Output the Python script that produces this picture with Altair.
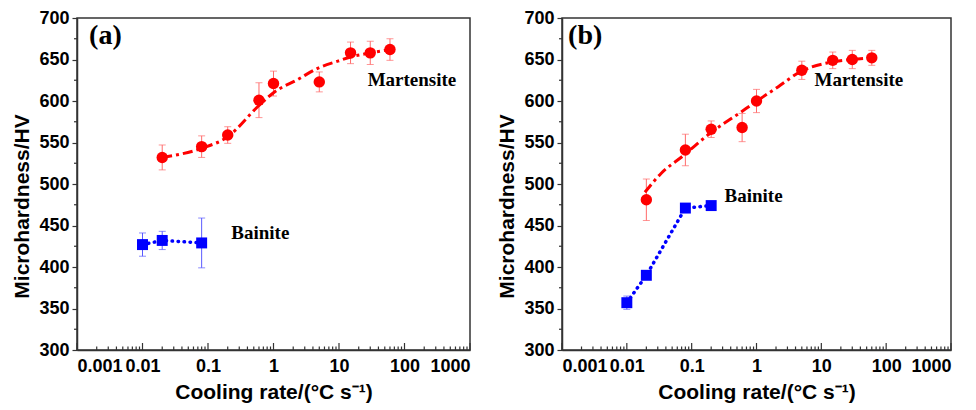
import altair as alt
import pandas as pd

# ---------------- data ----------------
# Panel (a)
mart_x_a = [0.02, 0.08, 0.2, 0.6, 1, 5, 15, 30, 60]
mart_y_a = [532, 545, 559, 601, 621, 623, 658, 658, 662]
mart_e_a = [15, 13, 10, 21, 15, 12, 13, 14, 13]
bain_x_a = [0.01, 0.02, 0.08]
bain_y_a = [427, 432, 429]
bain_e_a = [14, 11, 30]
fit_x_a = [0.02, 0.08, 0.2, 0.59, 1, 2.36, 4.9, 9.6, 15, 30, 60]
fit_y_a = [532, 543, 557, 594, 610, 626, 640, 648, 653, 658, 662]

# Panel (b)
mart_x_b = [0.02, 0.08, 0.2, 0.6, 1, 5, 15, 30, 60]
mart_y_b = [481, 541, 566, 568, 600, 637, 649, 650, 652]
mart_e_b = [25, 19, 10, 17, 14, 11, 10, 11, 9]
bain_x_b = [0.01, 0.02, 0.08, 0.2]
bain_y_b = [357, 390, 471, 474]
bain_e_b = [8, 5, 4, 3]
fit_x_b = [0.019, 0.034, 0.074, 0.184, 0.56, 0.93, 2.14, 4.7, 14.5, 29, 58]
fit_y_b = [490, 513, 534, 560, 586, 598, 617, 635, 647, 650, 652]

# axis ticks
x_major = [0.001, 0.01, 0.1, 1, 10, 100, 1000]
x_minor = [m * d for d in [0.001, 0.01, 0.1, 1, 10, 100] for m in range(2, 10)]
y_major = [300, 350, 400, 450, 500, 550, 600, 650, 700]
y_minor = [325, 375, 425, 475, 525, 575, 625, 675]

# annotations
labels_a = ["(a)", "Martensite", "Bainite"]
labels_a_x = [0.00153, 130, 0.63]
labels_a_y = [678, 625, 441]
labels_b = ["(b)", "Martensite", "Bainite"]
labels_b_x = [0.00124, 38, 0.9]
labels_b_y = [678, 625, 486]

RED = "#ff0000"
RED_ERR = "#ff6a6a"
BLUE = "#0000ff"
BLUE_ERR = "#5a5aff"
H = 332

X_TITLE = "Cooling rate/(°C s⁻¹)"
Y_TITLE = "Microhardness/HV"


def panel(mx, my, me, bx, by, be, fx, fy, lab, lx, ly, width):
    xs = alt.Scale(type="log", domain=[0.001, 1000])
    ys = alt.Scale(domain=[300, 700], nice=False, zero=False)
    xaxis = alt.Axis(values=x_major, format="~g", ticks=False, tickSize=0,
                     labelPadding=7, titlePadding=6, title=X_TITLE)
    yaxis = alt.Axis(values=y_major, tickSize=5, labelPadding=3,
                     titlePadding=6, titleY=188, title=Y_TITLE)

    mart = pd.DataFrame({"x": mx, "y": my,
                         "lo": [a - b for a, b in zip(my, me)],
                         "hi": [a + b for a, b in zip(my, me)]})
    bain = pd.DataFrame({"x": bx, "y": by,
                         "lo": [a - b for a, b in zip(by, be)],
                         "hi": [a + b for a, b in zip(by, be)]})
    fit = pd.DataFrame({"x": fx, "y": fy})
    ann = pd.DataFrame({"t": lab, "x": lx, "y": ly})
    xmaj = pd.DataFrame({"v": x_major})
    xmin = pd.DataFrame({"v": x_minor})
    ymin = pd.DataFrame({"v": y_minor})

    X = lambda f: alt.X(f, type="quantitative", scale=xs, axis=xaxis, title=X_TITLE)
    Y = lambda f: alt.Y(f, type="quantitative", scale=ys, axis=yaxis, title=Y_TITLE)

    xt_major = alt.Chart(xmaj).mark_rule(color="#333", strokeWidth=1.2).encode(
        x=X("v"), y=alt.value(H), y2=alt.value(H - 7))
    xt_minor = alt.Chart(xmin).mark_rule(color="#333", strokeWidth=1.2).encode(
        x=X("v"), y=alt.value(H), y2=alt.value(H - 3.5))
    yt_minor = alt.Chart(ymin).mark_rule(color="#333", strokeWidth=1.2).encode(
        y=Y("v"), x=alt.value(0), x2=alt.value(-3))

    def errs(df, col):
        r = alt.Chart(df).mark_rule(color=col, strokeWidth=1).encode(
            x=X("x"), y=Y("lo"), y2=alt.Y2("hi"))
        t1 = alt.Chart(df).mark_tick(orient="horizontal", size=7, thickness=1, color=col).encode(
            x=X("x"), y=Y("lo"))
        t2 = alt.Chart(df).mark_tick(orient="horizontal", size=7, thickness=1, color=col).encode(
            x=X("x"), y=Y("hi"))
        return [r, t1, t2]

    fit_line = alt.Chart(fit).mark_line(color=RED, strokeWidth=3, strokeDash=[10, 4, 3, 4],
                                        interpolate="monotone").encode(
        x=X("x"), y=Y("y"), order=alt.Order("x:Q"))
    bain_line = alt.Chart(bain).mark_line(color=BLUE, strokeWidth=3.5, strokeDash=[0.5, 5.5],
                                          strokeCap="round").encode(
        x=X("x"), y=Y("y"), order=alt.Order("x:Q"))
    mart_pts = alt.Chart(mart).mark_point(shape="circle", filled=True, size=130,
                                          color=RED, opacity=1).encode(x=X("x"), y=Y("y"))
    bain_pts = alt.Chart(bain).mark_point(shape="square", filled=True, size=120,
                                          color=BLUE, opacity=1).encode(x=X("x"), y=Y("y"))

    tag = alt.Chart(ann.iloc[[0]]).mark_text(font="Liberation Serif", fontWeight="bold",
                                             fontSize=28, align="left", baseline="middle",
                                             color="black").encode(
        x=X("x"), y=Y("y"), text="t:N")
    names = alt.Chart(ann.iloc[1:]).mark_text(font="Liberation Serif", fontWeight="bold",
                                              fontSize=19, align="center", baseline="middle",
                                              color="black").encode(
        x=X("x"), y=Y("y"), text="t:N")

    layers = [xt_major, xt_minor, yt_minor] + errs(mart, RED_ERR) + errs(bain, BLUE_ERR) + \
             [fit_line, bain_line, mart_pts, bain_pts, tag, names]
    return alt.layer(*layers).properties(width=width, height=H)


pa = panel(mart_x_a, mart_y_a, mart_e_a, bain_x_a, bain_y_a, bain_e_a, fit_x_a, fit_y_a,
           labels_a, labels_a_x, labels_a_y, 393)
pb = panel(mart_x_b, mart_y_b, mart_e_b, bain_x_b, bain_y_b, bain_e_b, fit_x_b, fit_y_b,
           labels_b, labels_b_x, labels_b_y, 389)

chart = alt.hconcat(pa, pb, spacing=92, bounds="flush").properties(
    padding={"left": 3, "top": 0, "right": 5, "bottom": 2},
    background="white",
).configure_view(
    stroke="#333", strokeWidth=1.5
).configure_axis(
    grid=False,
    labelFont="Liberation Sans", labelFontWeight="bold", labelFontSize=18, labelColor="black",
    titleFont="Liberation Sans", titleFontWeight="bold", titleFontSize=21, titleColor="black",
    domainColor="#333", domainWidth=1.5, tickColor="#333", tickWidth=1.2,
)

chart.save("out.html", embed_options={"renderer": "svg", "actions": False})
